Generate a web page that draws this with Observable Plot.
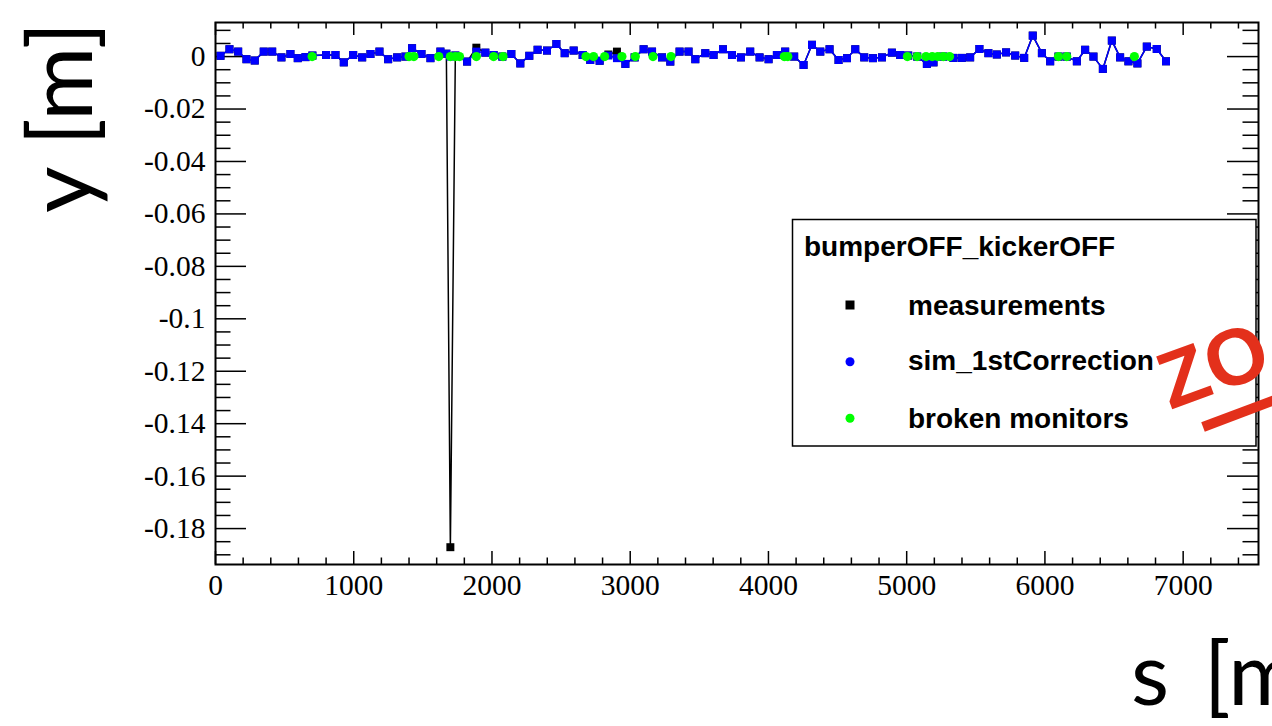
<!DOCTYPE html>
<html>
<head>
<meta charset="utf-8">
<script src="https://cdn.jsdelivr.net/npm/d3@7"></script>
<script src="https://cdn.jsdelivr.net/npm/@observablehq/plot@0.6"></script>
<style>
  html, body { margin: 0; padding: 0; background: #fff; overflow: hidden; }
  #chart { width: 1272px; height: 726px; position: relative; overflow: hidden; }
</style>
</head>
<body>
<div id="chart"></div>
<script>
// ---- data (s in m, y in m) ----
const sPos = [36, 101, 164, 224, 284, 349, 410, 477, 542, 595,
  651, 701, 800, 868, 928, 996, 1061, 1121, 1186, 1249,
  1314, 1374, 1422, 1490, 1555, 1627, 1670, 1699, 1735, 1820,
  1887, 1952, 2012, 2075, 2140, 2205, 2270, 2330, 2398, 2466,
  2526, 2591, 2656, 2711, 2779, 2842, 2904, 2965, 3032, 3097,
  3158, 3230, 3290, 3357, 3422, 3471, 3543, 3603, 3671, 3736,
  3801, 3868, 3936, 4001, 4061, 4121, 4186, 4254, 4315, 4375,
  4442, 4507, 4568, 4628, 4693, 4756, 4821, 4893, 4953, 5011,
  5076, 5146, 5194, 5264, 5338, 5399, 5459, 5526, 5591, 5652,
  5719, 5785, 5850, 5912, 5978, 6038, 6098, 6158, 6231, 6291,
  6351, 6419, 6484, 6544, 6604, 6669, 6737, 6809, 6876];

const simY = [0.0003, 0.0028, 0.0019, -0.0010, -0.0015, 0.0019, 0.0019, -0.0003, 0.0010, -0.0006,
  -0.0002, 0.0004, 0.0006, 0.0006, -0.0022, 0.0006, -0.0003, 0.0010, 0.0019, -0.0010,
  -0.0003, 0.0000, 0.0032, 0.0010, -0.0006, 0.0019, 0.0011, 0.0000, 0.0004, -0.0019,
  0.0019, 0.0015, 0.0006, 0.0000, 0.0010, -0.0026, 0.0003, 0.0026, 0.0023, 0.0048,
  0.0013, 0.0023, 0.0006, -0.0013, -0.0016, 0.0004, -0.0006, -0.0028, -0.0003, 0.0028,
  0.0019, -0.0003, -0.0019, 0.0019, 0.0019, -0.0010, 0.0013, 0.0006, 0.0028, 0.0006,
  -0.0003, 0.0019, -0.0003, -0.0010, 0.0006, 0.0019, 0.0000, -0.0032, 0.0045, 0.0019,
  0.0028, -0.0013, -0.0006, 0.0028, -0.0003, -0.0006, -0.0003, 0.0015, 0.0006, 0.0004,
  0.0000, -0.0028, -0.0022, 0.0000, -0.0005, -0.0005, -0.0003, 0.0029, 0.0013, 0.0008,
  0.0016, 0.0004, -0.0005, 0.0080, 0.0013, -0.0018, 0.0000, 0.0000, -0.0018, 0.0026,
  0.0000, -0.0047, 0.0061, -0.0003, -0.0018, -0.0026, 0.0038, 0.0029, -0.0018];

const measY = [0.0003, 0.0028, 0.0019, -0.0010, -0.0015, 0.0019, 0.0019, -0.0003, 0.0010, -0.0006,
  -0.0002, 0.0004, 0.0006, 0.0006, -0.0022, 0.0006, -0.0003, 0.0010, 0.0019, -0.0010,
  -0.0003, 0.0000, 0.0032, 0.0010, -0.0006, 0.0019, 0.0011, -0.1871, 0.0004, -0.0019,
  0.0034, 0.0015, 0.0006, 0.0000, 0.0010, -0.0026, 0.0003, 0.0026, 0.0023, 0.0048,
  0.0013, 0.0023, 0.0006, -0.0013, -0.0016, 0.0008, 0.0019, -0.0028, -0.0003, 0.0028,
  0.0019, -0.0003, -0.0019, 0.0019, 0.0019, -0.0010, 0.0013, 0.0006, 0.0028, 0.0006,
  -0.0003, 0.0019, -0.0003, -0.0010, 0.0006, 0.0019, 0.0000, -0.0032, 0.0045, 0.0019,
  0.0028, -0.0013, -0.0006, 0.0028, -0.0003, -0.0006, -0.0003, 0.0015, 0.0006, 0.0004,
  0.0000, -0.0028, -0.0022, 0.0000, -0.0005, -0.0005, -0.0003, 0.0029, 0.0013, 0.0008,
  0.0016, 0.0004, -0.0005, 0.0080, 0.0013, -0.0018, 0.0000, 0.0000, -0.0018, 0.0026,
  0.0000, -0.0047, 0.0061, -0.0003, -0.0018, -0.0026, 0.0038, 0.0029, -0.0018];

const brokenS = [699, 1400, 1435, 1615, 1699, 1735, 1765, 1887, 2012, 2080,
  2680, 2735, 2815, 2940, 3037, 3165, 3295, 4115, 4140, 5005,
  5075, 5140, 5185, 5225, 5265, 5310, 6098, 6158, 6647];

const xTickLabels = [0, 1000, 2000, 3000, 4000, 5000, 6000, 7000];
const yTickLabels = [0, -0.02, -0.04, -0.06, -0.08, -0.1, -0.12, -0.14, -0.16, -0.18];

const legendTitle = "bumperOFF_kickerOFF";
const legendNames = ["measurements", "sim_1stCorrection", "broken monitors"];
const xTitle = "s [m]";
const yTitle = "y [m]";

// ---- tables ----
const sim = sPos.map((s, i) => ({s, y: simY[i]}));
const meas = sPos.map((s, i) => ({s, y: measY[i]}));
const broken = brokenS.map(s => ({s, y: 0}));

const xMinor = d3.range(200, 7545, 200).filter(v => v % 1000 !== 0);
const yMinor = d3.range(2, -39, -1).map(k => +(k * 0.005).toFixed(3)).filter(v => Math.abs(Math.round(v / 0.02) * 0.02 - v) > 1e-9);

const W = 1272, H = 726;
const mL = 215, mR = 14, mT = 22, mB = 162;
const fw = W - mL - mR, fh = H - mT - mB;

const plot = Plot.plot({
  width: W, height: H,
  marginLeft: mL, marginRight: mR, marginTop: mT, marginBottom: mB,
  x: {domain: [0, 7545], axis: null},
  y: {domain: [-0.1937, 0.013], axis: null},
  style: {background: "white", fontFamily: "Liberation Serif", overflow: "hidden"},
  marks: [
    // ticks (inside, all four sides)
    Plot.tickX(xTickLabels, {x: d => d, insetTop: fh - 13, stroke: "black", strokeWidth: 1.5}),
    Plot.tickX(xTickLabels, {x: d => d, insetBottom: fh - 13, stroke: "black", strokeWidth: 1.5}),
    Plot.tickX(xMinor, {x: d => d, insetTop: fh - 6.5, stroke: "black", strokeWidth: 1.5}),
    Plot.tickX(xMinor, {x: d => d, insetBottom: fh - 6.5, stroke: "black", strokeWidth: 1.5}),
    Plot.tickY(yTickLabels, {y: d => d, insetRight: fw - 31, stroke: "black", strokeWidth: 1.5}),
    Plot.tickY(yTickLabels, {y: d => d, insetLeft: fw - 31, stroke: "black", strokeWidth: 1.5}),
    Plot.tickY(yMinor, {y: d => d, insetRight: fw - 15.5, stroke: "black", strokeWidth: 1.5}),
    Plot.tickY(yMinor, {y: d => d, insetLeft: fw - 15.5, stroke: "black", strokeWidth: 1.5}),
    // tick labels
    Plot.text(xTickLabels, {x: d => d, text: d => String(d), frameAnchor: "bottom", lineAnchor: "middle", dy: 21,
      fontSize: 29.5, fontFamily: "Liberation Serif", fill: "black"}),
    Plot.text(yTickLabels, {y: d => d, text: d => String(d), frameAnchor: "left", textAnchor: "end", dx: -10,
      fontSize: 29.5, fontFamily: "Liberation Serif", fill: "black"}),
    // data
    Plot.line(meas, {x: "s", y: "y", stroke: "black", strokeWidth: 1.5}),
    Plot.dot(meas, {x: "s", y: "y", symbol: "square", r: 4.5, fill: "black"}),
    Plot.line(sim, {x: "s", y: "y", stroke: "#0000ff", strokeWidth: 1.5}),
    Plot.dot(sim, {x: "s", y: "y", symbol: "square", r: 4.5, fill: "#0000ff"}),
    Plot.dot(broken, {x: "s", y: "y", r: 4.6, fill: "#00ff00"}),
    Plot.frame({stroke: "black", strokeWidth: 2})
  ]
});

const svg = d3.select(plot);

// legend (white box drawn over the frame ticks)
const lg = svg.append("g").attr("text-anchor", "start");
lg.append("rect").attr("x", 792.5).attr("y", 219.5).attr("width", 463.5).attr("height", 226.5)
  .attr("fill", "white").attr("stroke", "black").attr("stroke-width", 1.5);
lg.append("text").attr("x", 804).attr("y", 256).text(legendTitle).attr("text-anchor", "start")
  .attr("font-family", "Liberation Sans").attr("font-weight", "bold").attr("font-size", 28).attr("fill", "black");
const entryY = [305, 361.7, 418.3];
const baseY = [315, 370, 427.5];
lg.append("rect").attr("x", 845.5).attr("y", entryY[0] - 4.5).attr("width", 9).attr("height", 9).attr("fill", "black");
lg.append("circle").attr("cx", 850).attr("cy", entryY[1]).attr("r", 4.5).attr("fill", "#0000ff");
lg.append("circle").attr("cx", 850).attr("cy", entryY[2]).attr("r", 4.5).attr("fill", "#00ff00");
legendNames.forEach((n, i) => {
  lg.append("text").attr("x", 908).attr("y", baseY[i]).text(n).attr("text-anchor", "start")
    .attr("font-family", "Liberation Sans").attr("font-weight", "bold").attr("font-size", 28).attr("fill", "black");
});

// axis titles
svg.append("text").attr("transform", "translate(92,213) rotate(-90)").text(yTitle).attr("text-anchor", "start")
  .attr("font-family", "Lato").attr("font-size", 90).attr("fill", "black");
svg.append("text").attr("x", 1131).attr("y", 705).text(xTitle).attr("text-anchor", "start")
  .attr("font-family", "Lato").attr("font-size", 88).attr("fill", "black")
  .attr("word-spacing", 12);

// red stamp partly visible on the right edge
const st = svg.append("g").attr("transform", "translate(1170,410) rotate(-20)");
st.append("text").attr("x", 0).attr("y", 0).text("ZO").attr("text-anchor", "start")
  .attr("font-family", "Liberation Sans").attr("font-weight", "bold").attr("font-size", 80).attr("fill", "#e3301b");
svg.append("line").attr("x1", 1203).attr("y1", 427).attr("x2", 1280).attr("y2", 398)
  .attr("stroke", "#e3301b").attr("stroke-width", 10);

document.getElementById("chart").appendChild(plot);
</script>
</body>
</html>
